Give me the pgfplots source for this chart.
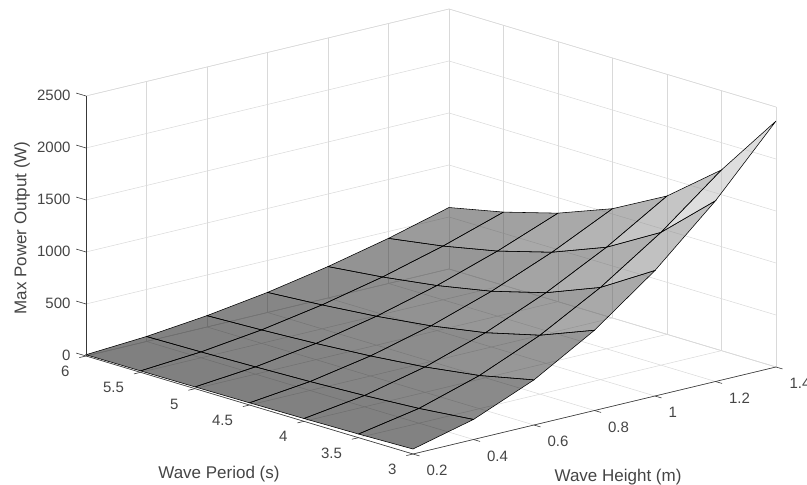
\documentclass[border=0pt]{standalone}
\usepackage{fontspec}
\setmainfont{Liberation Sans}
\usepackage{pgfplots}
\pgfplotsset{compat=1.18}
\definecolor{axc}{gray}{0.22}
\definecolor{txt}{gray}{0.27}
\newcommand{\lf}{\fontsize{17}{17}\selectfont}
\begin{document}
\begin{tikzpicture}[x=1pt,y=1pt]
\begin{axis}[
  at={(413pt,31pt)}, anchor=origin,
  x={(302.5pt,72.5pt)}, y={(-109pt,32.67pt)}, z={(0pt,0.104pt)},
  xmin=0.2, xmax=1.4, ymin=3, ymax=6, zmin=0, zmax=2500,
  clip=false,
  3d box=background,
  axis line style={gray!30, line width=0.5pt},
  grid=major, grid style={gray!30, line width=0.5pt},
  major tick length=0pt,
  xtick={0.2,0.4,0.6,0.8,1,1.2,1.4}, xticklabels={0.2,0.4,0.6,0.8,1,1.2,1.4},
  ytick={3,3.5,4,4.5,5,5.5,6}, yticklabels={3,3.5,4,4.5,5,5.5,6},
  ztick={0,500,1000,1500,2000,2500}, zticklabels={0,500,1000,1500,2000,2500},
  tick label style={font=\fontsize{15}{15}\selectfont, text=txt},
  xticklabel style={anchor=west, xshift=10pt, yshift=-16.5pt},
  yticklabel style={anchor=east, xshift=-13pt, yshift=-15.5pt},
  zticklabel style={anchor=east, xshift=-12pt, yshift=0.5pt},
  xlabel={Wave Height (m)},
  ylabel={Wave Period (s)},
  zlabel={Max Power Output (W)},
  every axis x label/.style={at={(axis cs:0.448,1.807,0)}, anchor=center, yshift=-2pt, font=\lf, text=txt},
  every axis y label/.style={at={(axis cs:-0.2747,3.4718,0)}, anchor=center, xshift=1pt, yshift=-1.5pt, font=\lf, text=txt},
  every axis z label/.style={at={(axis cs:0.0824,6.2609,1231)}, anchor=center, rotate=90, font=\lf, text=txt},
  colormap/blackwhite, point meta min=0, point meta max=2365,
]
\addplot3[surf, shader=flat corner, draw=black, line width=0.55pt,
  fill opacity=0.5, draw opacity=1, z buffer=sort,
  mesh/ordering=x varies, mesh/cols=7, mesh/rows=7] table[row sep=\\] {
x y z\\
0.2 3 48\\ 0.4 3 193\\ 0.6 3 434\\ 0.8 3 772\\ 1.0 3 1207\\ 1.2 3 1738\\ 1.4 3 2365\\
0.2 3.5 35\\ 0.4 3.5 142\\ 0.6 3.5 319\\ 0.8 3.5 567\\ 1.0 3.5 887\\ 1.2 3.5 1277\\ 1.4 3.5 1738\\
0.2 4 27\\ 0.4 4 109\\ 0.6 4 244\\ 0.8 4 434\\ 1.0 4 679\\ 1.2 4 977\\ 1.4 4 1330\\
0.2 4.5 21\\ 0.4 4.5 86\\ 0.6 4.5 193\\ 0.8 4.5 343\\ 1.0 4.5 536\\ 1.2 4.5 772\\ 1.4 4.5 1051\\
0.2 5 17\\ 0.4 5 70\\ 0.6 5 156\\ 0.8 5 278\\ 1.0 5 434\\ 1.2 5 626\\ 1.4 5 851\\
0.2 5.5 14\\ 0.4 5.5 57\\ 0.6 5.5 129\\ 0.8 5.5 230\\ 1.0 5.5 359\\ 1.2 5.5 517\\ 1.4 5.5 704\\
0.2 6 12\\ 0.4 6 48\\ 0.6 6 109\\ 0.8 6 193\\ 1.0 6 302\\ 1.2 6 434\\ 1.4 6 591\\
};
% axis rulers and tick marks
\draw[axc, line width=0.6pt] (axis cs:0.2,3,0) -- (axis cs:1.4,3,0);
\draw[axc, line width=0.6pt] (axis cs:0.2,3,0) -- (axis cs:0.2,6,0);
\draw[axc, line width=0.6pt] (axis cs:0.2,6,0) -- (axis cs:0.2,6,2500);
\pgfplotsinvokeforeach{0.2,0.4,0.6,0.8,1.0,1.2,1.4}{\draw[axc, line width=0.6pt] (axis cs:#1,3,0) -- (axis cs:#1,2.94,0);}
\pgfplotsinvokeforeach{3,3.5,4,4.5,5,5.5,6}{\draw[axc, line width=0.6pt] (axis cs:0.2,#1,0) -- (axis cs:0.178,#1,0);}
\pgfplotsinvokeforeach{0,500,1000,1500,2000,2500}{\draw[axc, line width=0.6pt] (axis cs:0.2,6,#1) -- (axis cs:0.2,6.09,#1);}
\end{axis}
\pgfresetboundingbox
\path[use as bounding box] (0pt,0pt) rectangle (807pt,485pt);
\end{tikzpicture}
\end{document}
